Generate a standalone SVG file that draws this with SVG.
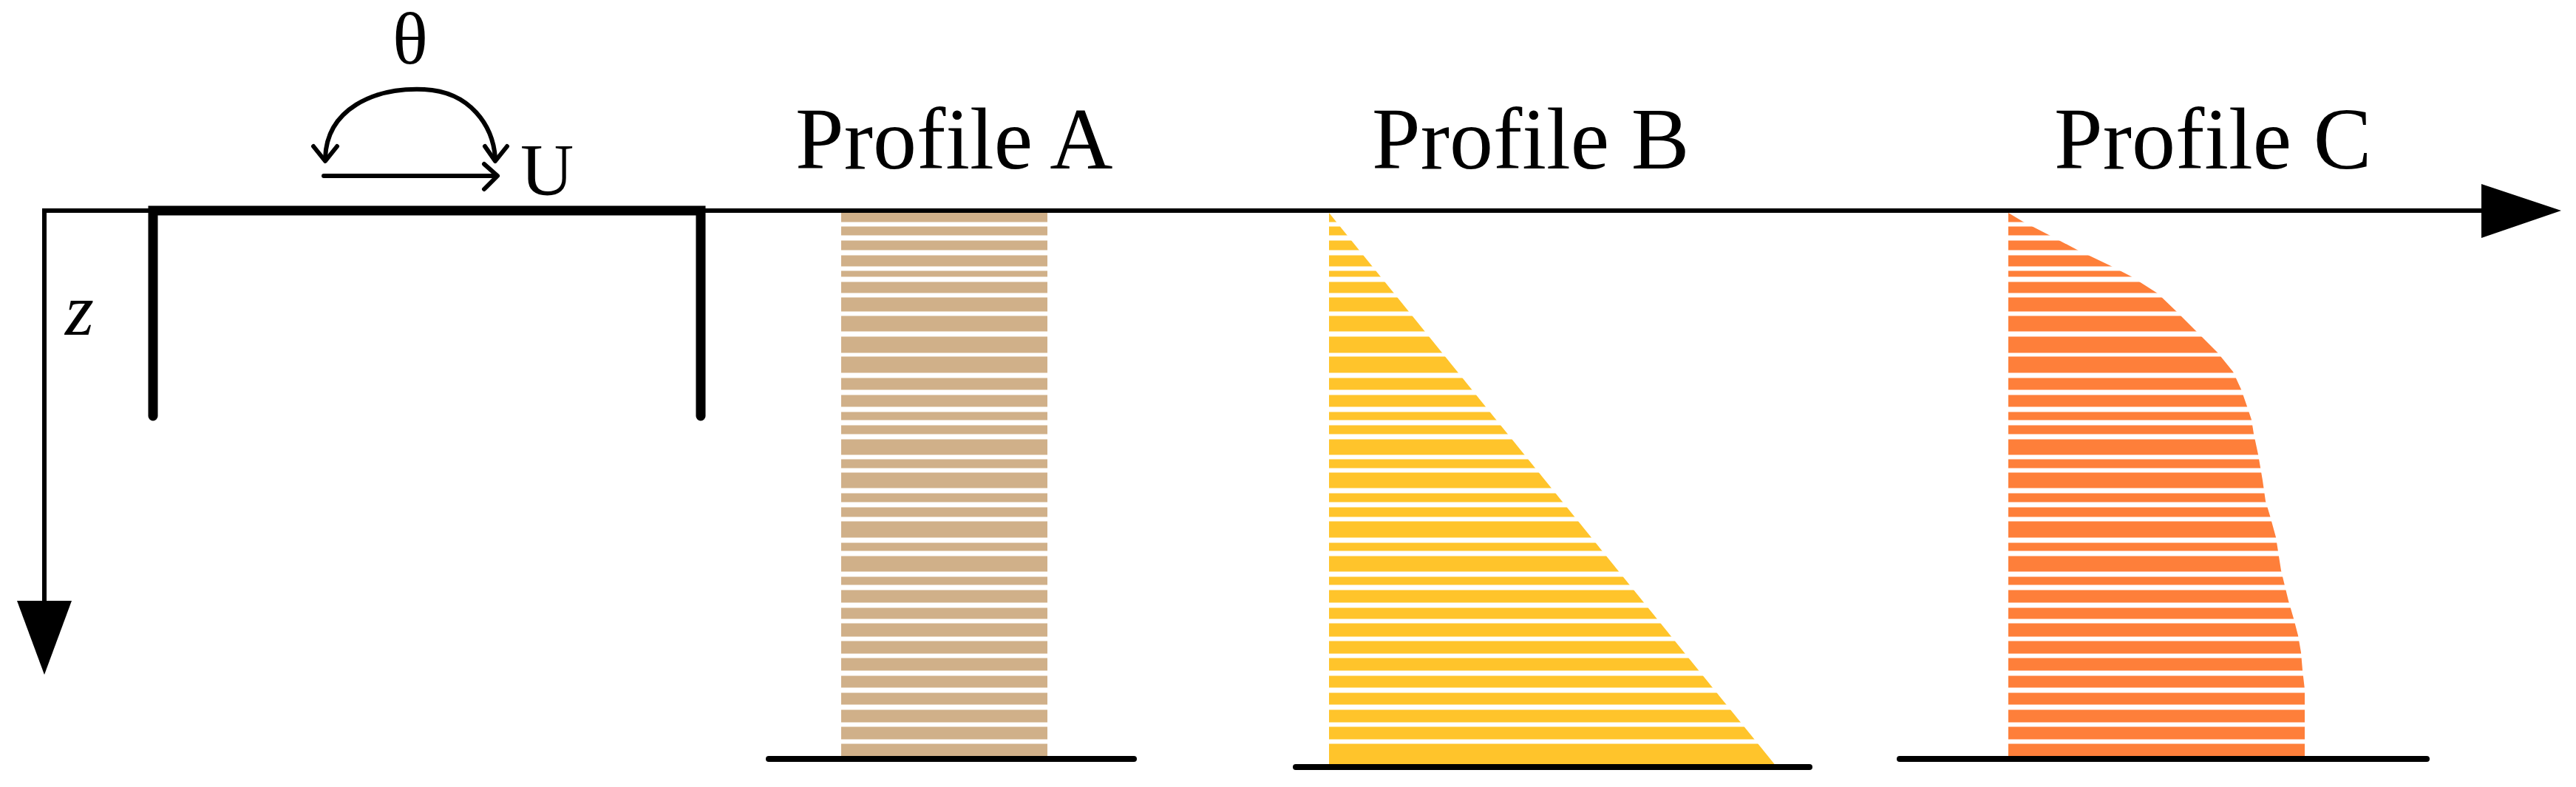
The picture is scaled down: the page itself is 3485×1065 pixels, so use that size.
<svg xmlns="http://www.w3.org/2000/svg" xmlns:xlink="http://www.w3.org/1999/xlink" width="3485" height="1065" viewBox="0 0 3485 1065">
  <style>
    .lbl { font-family: "Liberation Serif", "Times New Roman", serif; fill: #000; }
    .axis { fill: none; stroke: #000; stroke-width: 6; stroke-linejoin: miter; }
    .base { stroke: #000; stroke-width: 8; stroke-linecap: round; }
    .thin { fill: none; stroke: #000; stroke-width: 6; stroke-linecap: round; stroke-linejoin: round; }
    .gap { fill: #fff; }
  </style>
  <defs>
    <g id="gaps">
      <rect class="gap" x="0" y="300.5" width="620" height="6"/>
      <rect class="gap" x="0" y="318.5" width="620" height="7"/>
      <rect class="gap" x="0" y="338.5" width="620" height="7"/>
      <rect class="gap" x="0" y="360.5" width="620" height="6"/>
      <rect class="gap" x="0" y="374.5" width="620" height="7"/>
      <rect class="gap" x="0" y="396.5" width="620" height="6"/>
      <rect class="gap" x="0" y="421.5" width="620" height="6"/>
      <rect class="gap" x="0" y="448.5" width="620" height="7"/>
      <rect class="gap" x="0" y="477.5" width="620" height="5"/>
      <rect class="gap" x="0" y="504.5" width="620" height="7"/>
      <rect class="gap" x="0" y="527.5" width="620" height="7"/>
      <rect class="gap" x="0" y="550.5" width="620" height="7"/>
      <rect class="gap" x="0" y="568.5" width="620" height="7"/>
      <rect class="gap" x="0" y="587.5" width="620" height="7"/>
      <rect class="gap" x="0" y="615.5" width="620" height="6"/>
      <rect class="gap" x="0" y="633.5" width="620" height="6"/>
      <rect class="gap" x="0" y="660.5" width="620" height="7"/>
      <rect class="gap" x="0" y="679.5" width="620" height="7"/>
      <rect class="gap" x="0" y="699.5" width="620" height="6"/>
      <rect class="gap" x="0" y="727.5" width="620" height="7"/>
      <rect class="gap" x="0" y="745.5" width="620" height="7"/>
      <rect class="gap" x="0" y="773.5" width="620" height="7"/>
      <rect class="gap" x="0" y="791.5" width="620" height="7"/>
      <rect class="gap" x="0" y="815.5" width="620" height="7"/>
      <rect class="gap" x="0" y="837.5" width="620" height="6"/>
      <rect class="gap" x="0" y="861.5" width="620" height="6"/>
      <rect class="gap" x="0" y="884.5" width="620" height="6"/>
      <rect class="gap" x="0" y="907.5" width="620" height="7"/>
      <rect class="gap" x="0" y="930.5" width="620" height="7"/>
      <rect class="gap" x="0" y="953.5" width="620" height="7"/>
      <rect class="gap" x="0" y="977.5" width="620" height="6"/>
      <rect class="gap" x="0" y="1000.5" width="620" height="6"/>
    </g>
  </defs>
  <rect width="3485" height="1065" fill="#fff"/>

  <g id="profile-a">
    <rect x="1138" y="288" width="279" height="738" fill="#D0B089"/>
    <use xlink:href="#gaps" x="1138"/>
    <line class="base" x1="1040" y1="1027" x2="1534" y2="1027"/>
    <text class="lbl" x="1076" y="228" font-size="118">Profile A</text>
  </g>

  <g id="profile-b">
    <polygon points="1798,288 1798,1037 2403,1037" fill="#FFC42B"/>
    <use xlink:href="#gaps" x="1798"/>
    <line class="base" x1="1753" y1="1038" x2="2448" y2="1038"/>
    <text class="lbl" x="1856" y="228" font-size="118">Profile B</text>
  </g>

  <g id="profile-c">
    <path d="M2717,288 L2737,300 L2772,318 L2810,338 L2856,360 L2883,374 L2919,397 L2944,421 L2971,448 L3000,477 L3021,503 L3032,527 L3040,550 L3046,568 L3049,587 L3055,615 L3061,650 L3065,678 L3071,698 L3079,727 L3086,772 L3096,813 L3103,837 L3109,860 L3113,883 L3115,907 L3118,933 L3118,1026 L2717,1026 Z" fill="#FE7F3A"/>
    <use xlink:href="#gaps" x="2717"/>
    <line class="base" x1="2570" y1="1027" x2="3283" y2="1027"/>
    <text class="lbl" x="2779" y="228" font-size="118">Profile C</text>
  </g>

  <g id="foundation">
    <path d="M207,563 L207,285 L948,285 L948,563" fill="none" stroke="#000" stroke-width="13" stroke-linecap="round" stroke-linejoin="miter"/>
  </g>

  <g id="loading">
    <path class="thin" d="M440,214 C442,148 505,118 574,121 C636,124 667,170 670,214"/>
    <polyline class="thin" points="424,198 440,218 456,198"/>
    <polyline class="thin" points="656,198 670,218 686,198"/>
    <line class="thin" x1="438" y1="238" x2="671" y2="238"/>
    <polyline class="thin" points="655,222 673,238 655,256"/>
    <text class="lbl" x="555" y="86" font-size="100" text-anchor="middle">θ</text>
    <text class="lbl" x="704" y="263" font-size="100">U</text>
  </g>

  <g id="axis-labels">
    <text class="lbl" x="88" y="453" font-size="100" font-style="italic">z</text>
  </g>

  <g id="connectors">
    <path class="axis" d="M60,813 L60,285 L3360,285"/>
    <polygon points="3357,249 3465,285 3357,322" fill="#000"/>
    <polygon points="23,813 97,813 60,913" fill="#000"/>
  </g>
</svg>
